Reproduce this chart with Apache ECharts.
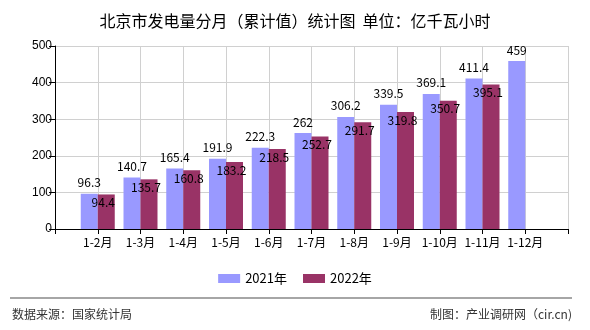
<!DOCTYPE html>
<html><head><meta charset="utf-8">
<script src="https://cdn.jsdelivr.net/npm/echarts@6/dist/echarts.min.js"></script>
<style>html,body{margin:0;padding:0;background:#fff}#c{width:590px;height:330px}</style>
</head><body><div id="c"></div>
<script>
const categories = ['1-2月','1-3月','1-4月','1-5月','1-6月','1-7月','1-8月','1-9月','1-10月','1-11月','1-12月'];
const values2021 = [96.3,140.7,165.4,191.9,222.3,262,306.2,339.5,369.1,411.4,459];
const values2022 = [94.4,135.7,160.8,183.2,218.5,252.7,291.7,319.8,350.7,395.1,null];
const yTicks = [0,100,200,300,400,500];
const seriesNames = ['2021年','2022年'];

const cats = [''].concat(categories, ['']);
const pad = a => ['-'].concat(a.map(v => v == null ? '-' : v), ['-']);
const labelFont = 'SimSun, "Noto Sans CJK SC", sans-serif';
const chart = echarts.init(document.getElementById('c'), null, {renderer:'canvas'});
chart.setOption({
  animation:false,
  title:{text:'北京市发电量分月（累计值）统计图  单位：亿千瓦小时',left:'center',top:8,
    textStyle:{fontSize:16,fontWeight:'normal',color:'#000',fontFamily:'"Noto Sans CJK SC", sans-serif'}},
  grid:{left:55,right:22,top:46,bottom:101,containLabel:false},
  legend:{data:seriesNames,bottom:40,left:'center',itemWidth:22,itemHeight:9,itemGap:16,
    textStyle:{fontSize:13,color:'#000',fontFamily:'"Noto Sans CJK SC", sans-serif'},icon:'rect'},
  xAxis:{type:'category',data:cats,boundaryGap:false,
    axisLine:{lineStyle:{color:'#000'}},
    axisTick:{show:true,length:5,alignWithLabel:true,interval:0,lineStyle:{color:'#000'}},
    axisLabel:{interval:0,fontSize:12,color:'#000',margin:7,fontFamily:labelFont},
    splitLine:{show:true,interval:0,lineStyle:{color:'#d0d0d0'}}},
  yAxis:{type:'value',min:yTicks[0],max:yTicks[yTicks.length-1],interval:100,
    axisLine:{show:true,lineStyle:{color:'#000'}},
    axisTick:{show:true,length:6,lineStyle:{color:'#000'}},
    axisLabel:{fontSize:12,color:'#000',margin:3,fontFamily:'Arial, "Liberation Sans", sans-serif'},
    splitLine:{lineStyle:{color:'#d0d0d0'}}},
  series:[
    {name:seriesNames[0],type:'bar',data:pad(values2021),barWidth:17,barGap:'0%',
     itemStyle:{color:'#9999FF'},
     label:{show:true,position:'top',distance:5,color:'#000',fontSize:12,fontFamily:labelFont}},
    {name:seriesNames[1],type:'bar',data:pad(values2022),barWidth:17,barGap:'0%',
     itemStyle:{color:'#993366'},
     label:{show:true,position:'insideTop',distance:2,offset:[-3,0],color:'#000',fontSize:12,fontFamily:labelFont}}
  ],
  graphic:[
    {type:'line',shape:{x1:10,y1:298,x2:572,y2:298},style:{stroke:'#888',lineWidth:1.5}},
    {type:'text',left:12,top:308,style:{text:'数据来源：国家统计局',fontSize:12,fill:'#333',fontFamily:'"Noto Sans CJK SC", sans-serif'}},
    {type:'text',right:18,top:308,style:{text:'制图：产业调研网（cir.cn)',fontSize:12,fill:'#333',fontFamily:'"Noto Sans CJK SC", sans-serif'}}
  ]
});
</script></body></html>
